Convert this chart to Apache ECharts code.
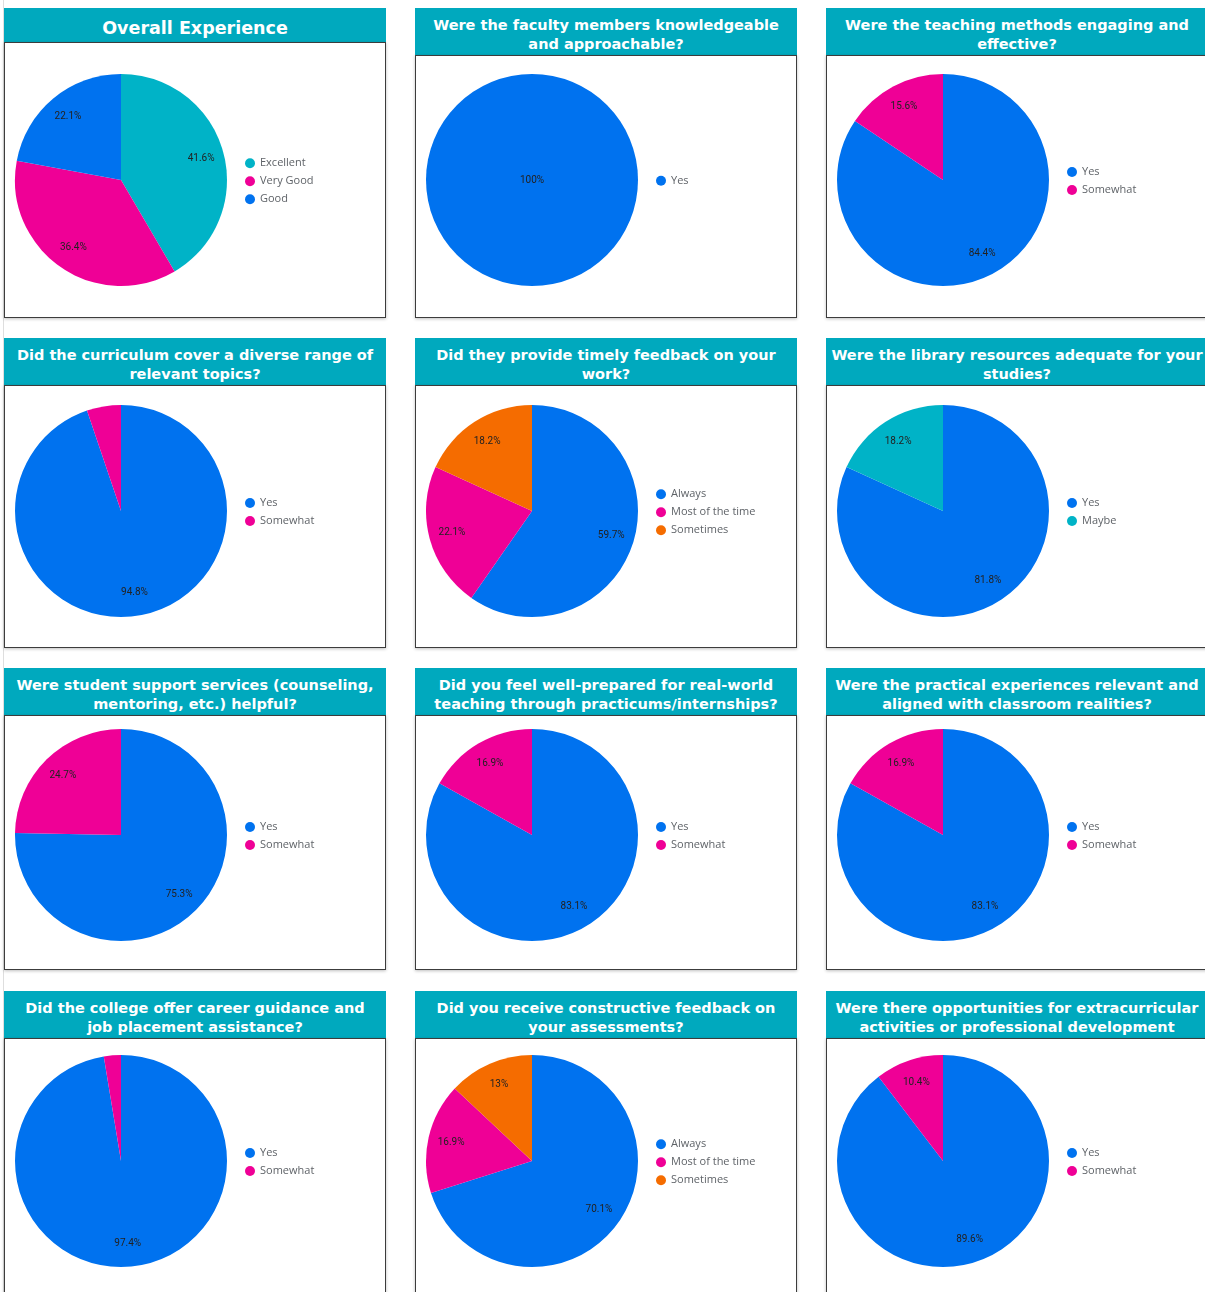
<!DOCTYPE html>
<html>
<head>
<meta charset="utf-8">
<script src="https://cdn.jsdelivr.net/npm/echarts@6/dist/echarts.min.js"></script>
<style>
  body { margin: 0; background: #fff; width: 1205px; height: 1292px; overflow: hidden; position: relative; }
  .edge { position: absolute; left: 3px; top: 0; width: 1px; height: 1292px; background: #dedede; }
  .panel { position: absolute; width: 382px; }
  .head {
    background: #00a9be; color: #fff; text-align: center;
    font-family: "DejaVu Sans", sans-serif; font-weight: bold; font-size: 14.5px; line-height: 19px;
    display: flex; align-items: center; justify-content: center; white-space: pre-line;
    padding-top: 7px; box-sizing: border-box;
  }
  .head.big { font-size: 17.5px; padding-top: 6px; }
  .box { border: 1px solid #3c3c3c; box-shadow: 0 1px 3px rgba(0,0,0,.25); background: #fff; box-sizing: border-box; }
  .chart { position: absolute; left: 0; top: 0; width: 382px; }
</style>
</head>
<body>
<div class="edge"></div>
<div id="wrap"></div>
<script>
// question titles (line breaks as in the dashboard)
const titles = [
  'Overall Experience',
  'Were the faculty members knowledgeable\nand approachable?',
  'Were the teaching methods engaging and\neffective?',
  'Did the curriculum cover a diverse range of\nrelevant topics?',
  'Did they provide timely feedback on your\nwork?',
  'Were the library resources adequate for your\nstudies?',
  'Were student support services (counseling,\nmentoring, etc.) helpful?',
  'Did you feel well-prepared for real-world\nteaching through practicums/internships?',
  'Were the practical experiences relevant and\naligned with classroom realities?',
  'Did the college offer career guidance and\njob placement assistance?',
  'Did you receive constructive feedback on\nyour assessments?',
  'Were there opportunities for extracurricular\nactivities or professional development'
];

// answer categories
const overallNames = ['Excellent', 'Very Good', 'Good'];
const yesNames = ['Yes'];
const ynNames = ['Yes', 'Somewhat'];
const freqNames = ['Always', 'Most of the time', 'Sometimes'];
const libraryNames = ['Yes', 'Maybe'];

// percentages
const overallPct = [41.6, 36.4, 22.1];
const facultyPct = [100];
const teachingPct = [84.4, 15.6];
const curriculumPct = [94.8, 5.2];
const timelyPct = [59.7, 22.1, 18.2];
const libraryPct = [81.8, 18.2];
const supportPct = [75.3, 24.7];
const preparedPct = [83.1, 16.9];
const practicalPct = [83.1, 16.9];
const careerPct = [97.4, 2.6];
const constructivePct = [70.1, 16.9, 13];
const extraPct = [89.6, 10.4];

const BLUE = '#0072ef', PINK = '#ef0096', TEAL = '#00b3c7', ORANGE = '#f56c00';

const charts = [
  { names: overallNames, values: overallPct, colors: [TEAL, PINK, BLUE] },
  { names: yesNames, values: facultyPct, colors: [BLUE] },
  { names: ynNames, values: teachingPct, colors: [BLUE, PINK] },
  { names: ynNames, values: curriculumPct, colors: [BLUE, PINK] },
  { names: freqNames, values: timelyPct, colors: [BLUE, PINK, ORANGE] },
  { names: libraryNames, values: libraryPct, colors: [BLUE, TEAL] },
  { names: ynNames, values: supportPct, colors: [BLUE, PINK] },
  { names: ynNames, values: preparedPct, colors: [BLUE, PINK] },
  { names: ynNames, values: practicalPct, colors: [BLUE, PINK] },
  { names: ynNames, values: careerPct, colors: [BLUE, PINK] },
  { names: freqNames, values: constructivePct, colors: [BLUE, PINK, ORANGE] },
  { names: ynNames, values: extraPct, colors: [BLUE, PINK] }
];

// layout of the dashboard grid
const colLeft = [4, 415, 826];
const rowTop = [8, 338, 668, 991];
const rowBottom = [318, 648, 970, 1302];
const pieY = [172, 173, 167, 170];
const R = 106;

const wrap = document.getElementById('wrap');

charts.forEach(function (c, i) {
  const row = Math.floor(i / 3), col = i % 3;
  const h = rowBottom[row] - rowTop[row];
  const headH = i === 0 ? 34 : 47;

  const panel = document.createElement('div');
  panel.className = 'panel';
  panel.style.left = colLeft[col] + 'px';
  panel.style.top = rowTop[row] + 'px';
  panel.style.height = h + 'px';

  const head = document.createElement('div');
  head.className = 'head' + (i === 0 ? ' big' : '');
  head.style.height = headH + 'px';
  head.textContent = titles[i];
  panel.appendChild(head);

  const box = document.createElement('div');
  box.className = 'box';
  box.style.height = (h - headH) + 'px';
  panel.appendChild(box);

  const el = document.createElement('div');
  el.className = 'chart';
  el.style.height = h + 'px';
  panel.appendChild(el);
  wrap.appendChild(panel);

  const data = c.names.map(function (n, k) {
    return { name: n, value: c.values[k], itemStyle: { color: c.colors[k] } };
  });
  const labelFmt = function (p) {
    return p.value < 6 ? '' : p.value + '%';
  };
  const labelStyle = { fontFamily: 'Roboto', fontSize: 10, color: '#222' };
  const single = c.values.length === 1;

  const chart = echarts.init(el, null, { renderer: 'canvas' });
  chart.setOption({
    animation: false,
    legend: {
      orient: 'vertical',
      left: 236,
      top: pieY[row] - c.names.length * 17.5 / 2 - 1,
      icon: 'circle',
      itemWidth: 10,
      itemHeight: 10,
      itemGap: 7,
      selectedMode: false,
      textStyle: { fontFamily: 'Open Sans', fontSize: 11, color: '#5f6368' },
      data: c.names
    },
    series: [{
      type: 'pie',
      center: [117, pieY[row]],
      radius: [0, R],
      startAngle: 90,
      clockwise: true,
      silent: true,
      itemStyle: { borderWidth: 0 },
      label: single
        ? Object.assign({ show: true, position: 'center', formatter: labelFmt }, labelStyle)
        : { show: false },
      labelLine: { show: false },
      data: data
    }, {
      // transparent ring that carries the labels at about 3/4 of the radius
      type: 'pie',
      center: [117, pieY[row]],
      radius: [54, R],
      startAngle: 90,
      clockwise: true,
      silent: true,
      itemStyle: { color: 'rgba(0,0,0,0)', borderWidth: 0 },
      label: Object.assign({ show: !single, position: 'inside', formatter: labelFmt }, labelStyle),
      labelLine: { show: false },
      data: c.names.map(function (n, k) { return { name: n, value: c.values[k] }; })
    }]
  });
});
</script>
</body>
</html>
